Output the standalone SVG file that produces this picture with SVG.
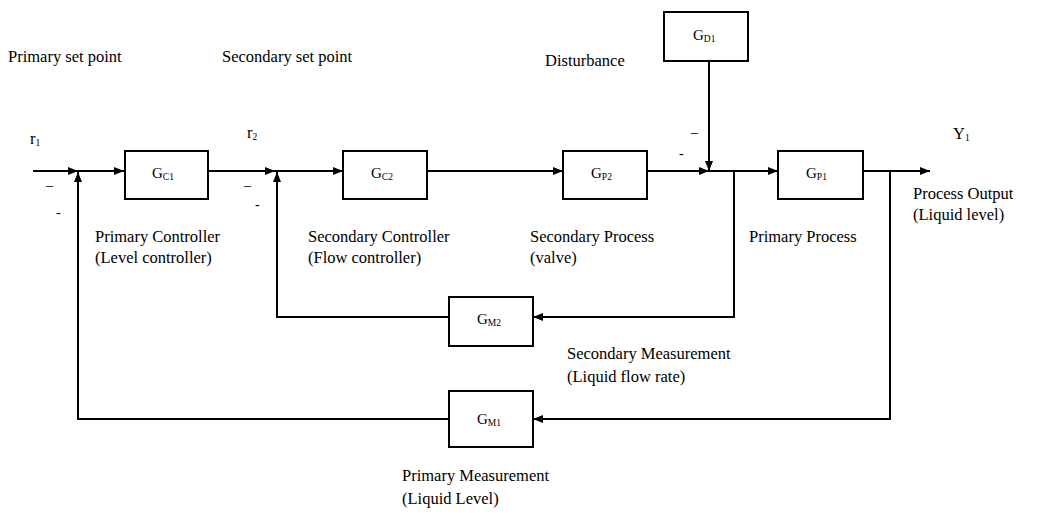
<svg xmlns="http://www.w3.org/2000/svg" width="1039" height="517" viewBox="0 0 1039 517">
<style>
text{font-family:"Liberation Serif","Times New Roman",serif;fill:#000}
.lbl{font-size:16.5px}
.g{font-size:15px}
.sub{font-size:9.5px}
.box{fill:#fff;stroke:#000;stroke-width:2}
.ln{fill:none;stroke:#000;stroke-width:2}
.sign{font-size:14px}
</style>
<defs>
<marker id="ah" viewBox="0 0 10 10" refX="10" refY="5" markerWidth="10" markerHeight="10" markerUnits="userSpaceOnUse" orient="auto">
<path d="M0,1 L10,5 L0,9 Z" fill="#000"/>
</marker>
</defs>
<rect width="1039" height="517" fill="#fff"/>
<g id="connectors">
<line class="ln" x1="33" y1="171" x2="78" y2="171" marker-end="url(#ah)"/>
<line class="ln" x1="78" y1="171" x2="124" y2="171" marker-end="url(#ah)"/>
<line class="ln" x1="208" y1="171" x2="275" y2="171" marker-end="url(#ah)"/>
<line class="ln" x1="275" y1="171" x2="343" y2="171" marker-end="url(#ah)"/>
<line class="ln" x1="427" y1="171" x2="563" y2="171" marker-end="url(#ah)"/>
<line class="ln" x1="647" y1="171" x2="709" y2="171" marker-end="url(#ah)"/>
<line class="ln" x1="709" y1="61" x2="709" y2="171" marker-end="url(#ah)"/>
<line class="ln" x1="709" y1="171" x2="778" y2="171" marker-end="url(#ah)"/>
<line class="ln" x1="863" y1="171" x2="930" y2="171" marker-end="url(#ah)"/>
<polyline class="ln" points="734,171 734,317 533,317" marker-end="url(#ah)"/>
<polyline class="ln" points="449,317 277,317 277,172" marker-end="url(#ah)"/>
<polyline class="ln" points="890,171 890,419 533,419" marker-end="url(#ah)"/>
<polyline class="ln" points="449,419 78,419 78,172" marker-end="url(#ah)"/>
</g>
<g id="GC1"><rect class="box" x="125" y="151" width="83" height="48"/><text class="g" x="152" y="178">G<tspan class="sub" dy="2">C1</tspan></text></g>
<g id="GC2"><rect class="box" x="343" y="151" width="84" height="48"/><text class="g" x="371" y="178">G<tspan class="sub" dy="2">C2</tspan></text></g>
<g id="GP2"><rect class="box" x="563" y="151" width="84" height="48"/><text class="g" x="591" y="178">G<tspan class="sub" dy="2">P2</tspan></text></g>
<g id="GP1"><rect class="box" x="778" y="151" width="85" height="48"/><text class="g" x="806" y="178">G<tspan class="sub" dy="2">P1</tspan></text></g>
<g id="GD1"><rect class="box" x="664" y="12" width="84" height="49"/><text class="g" x="693" y="40">G<tspan class="sub" dy="2">D1</tspan></text></g>
<g id="GM2"><rect class="box" x="449" y="297" width="84" height="49"/><text class="g" x="477" y="324">G<tspan class="sub" dy="2">M2</tspan></text></g>
<g id="GM1"><rect class="box" x="449" y="391" width="84" height="56"/><text class="g" x="477" y="424">G<tspan class="sub" dy="2">M1</tspan></text></g>
<g id="labels">
<text class="lbl" x="8" y="62">Primary set point</text>
<text class="lbl" x="222" y="62">Secondary set point</text>
<text class="lbl" x="545" y="66">Disturbance</text>
<text class="lbl" x="30" y="144">r<tspan class="sub" dy="2">1</tspan></text>
<text class="lbl" x="247" y="138">r<tspan class="sub" dy="2">2</tspan></text>
<text class="lbl" x="953" y="139">Y<tspan class="sub" dy="2">1</tspan></text>
<text class="sign" x="46" y="190">–</text>
<text class="sign" x="56" y="217">-</text>
<text class="sign" x="244" y="190">–</text>
<text class="sign" x="255" y="209">-</text>
<text class="sign" x="691" y="137">–</text>
<text class="sign" x="679" y="158">-</text>
<text class="lbl" x="95" y="242">Primary Controller</text>
<text class="lbl" x="95" y="263">(Level controller)</text>
<text class="lbl" x="308" y="242">Secondary Controller</text>
<text class="lbl" x="308" y="263">(Flow controller)</text>
<text class="lbl" x="530" y="242">Secondary Process</text>
<text class="lbl" x="530" y="263">(valve)</text>
<text class="lbl" x="749" y="242">Primary Process</text>
<text class="lbl" x="913" y="199">Process Output</text>
<text class="lbl" x="913" y="220">(Liquid level)</text>
<text class="lbl" x="567" y="359">Secondary Measurement</text>
<text class="lbl" x="567" y="382">(Liquid flow rate)</text>
<text class="lbl" x="402" y="481">Primary Measurement</text>
<text class="lbl" x="402" y="504">(Liquid Level)</text>
</g>
</svg>
